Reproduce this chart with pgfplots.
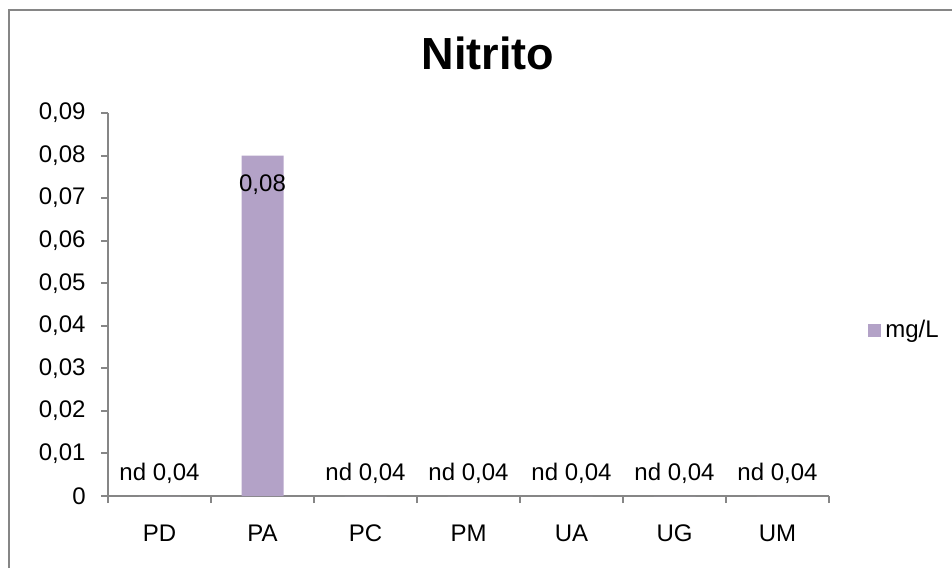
\documentclass[border=0pt]{standalone}
\usepackage{pgfplots}
\pgfplotsset{compat=1.18}
\usepackage{fontspec}
\setmainfont{Liberation Sans}
\definecolor{axisgray}{HTML}{868686}
\definecolor{barcol}{HTML}{B3A2C7}
\begin{document}
\begin{tikzpicture}[x=1pt,y=1pt]
\useasboundingbox (0,0) rectangle (476,284);
\draw[axisgray, line width=1pt] (4.5,0) -- (4.5,279) -- (476,279);
\begin{axis}[
  at={(54pt,36pt)}, anchor=south west,
  scale only axis, width=360.5pt, height=191.5pt,
  xmin=-0.5, xmax=6.5, ymin=0, ymax=0.09,
  axis lines*=left,
  axis line style={draw=axisgray, line width=1pt},
  tick style={draw=axisgray, line width=1pt},
  tick align=outside, major tick length=3.5pt,
  scaled y ticks=false,
  xtick={-0.5,0.5,1.5,2.5,3.5,4.5,5.5,6.5},
  xticklabels={},
  extra x ticks={0,1,2,3,4,5,6},
  extra x tick labels={PD,PA,PC,PM,UA,UG,UM},
  extra x tick style={tick style={draw=none}},
  xticklabel style={anchor=base, inner sep=0pt, yshift=-19pt},
  ytick={0,0.01,0.02,0.03,0.04,0.05,0.06,0.07,0.08,0.09},
  yticklabels={0,{0,01},{0,02},{0,03},{0,04},{0,05},{0,06},{0,07},{0,08},{0,09}},
  yticklabel style={anchor=east, inner sep=0pt, xshift=-7.5pt},
  tick label style={font=\fontsize{12}{14}\selectfont},
  title={Nitrito},
  title style={at={(0.527,1.081)}, anchor=base, inner sep=0pt, font=\fontsize{22.5}{26}\selectfont\bfseries},
  legend style={draw=none, fill=none, at={(1.054,0.432)}, anchor=west, inner sep=0pt,
    font=\fontsize{12}{14}\selectfont},
  legend image code/.code={\fill[barcol] (0pt,-3.25pt) rectangle (6.5pt,3.25pt);},
  clip=false,
]
\addplot[ybar, bar width=21pt, fill=barcol, draw=none,
  nodes near coords, point meta=explicit symbolic,
  every node near coord/.style={anchor=base, yshift=-17.75pt, font=\fontsize{12}{14}\selectfont, text=black}]
  coordinates {(0,0) [] (1,0.08) [0,08] (2,0) [] (3,0) [] (4,0) [] (5,0) [] (6,0) []};
\addlegendentry{mg/L}
\addplot[draw=none, mark=none, forget plot,
  nodes near coords, point meta=explicit symbolic,
  every node near coord/.style={anchor=base, yshift=8pt, font=\fontsize{12}{14}\selectfont, text=black}]
  coordinates {(0,0) [nd 0,04] (2,0) [nd 0,04] (3,0) [nd 0,04] (4,0) [nd 0,04] (5,0) [nd 0,04] (6,0) [nd 0,04]};
\end{axis}
\end{tikzpicture}
\end{document}
